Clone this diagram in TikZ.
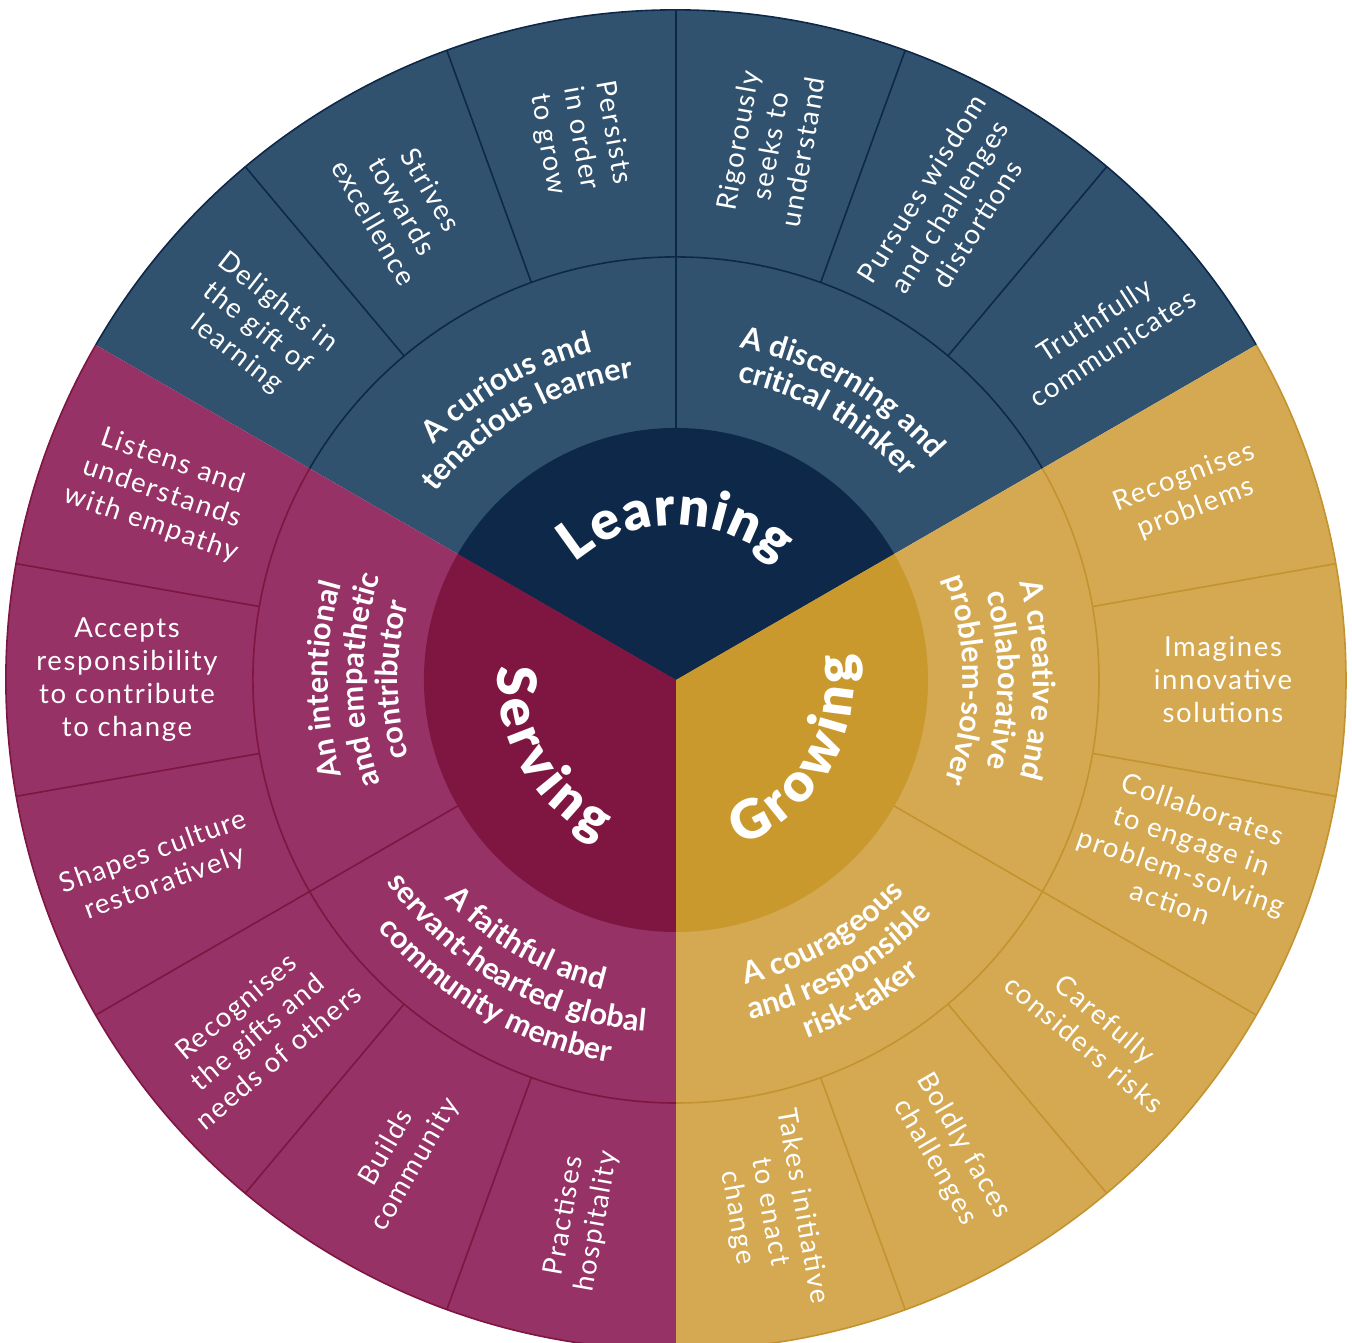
\documentclass[tikz,border=0pt]{standalone}
\usepackage{fontspec}
\usetikzlibrary{decorations.text}
\newfontfamily\wheelLight[LetterSpace=6]{Lato}
\newfontfamily\wheelMid[LetterSpace=2]{Lato}
\IfFontExistsTF{Lato Black}
 {\newfontfamily\wheelHeavy{Lato Black}\newcommand\wheelHeavyBold{}}
 {\newfontfamily\wheelHeavy{Lato}\newcommand\wheelHeavyBold{\bfseries}}
\newcommand\wheelOuterStyle{\wheelLight\fontsize{27.5}{33}\selectfont}
\newcommand\wheelMidStyle{\wheelMid\bfseries\fontsize{30.5}{30.5}\selectfont}
\newcommand\wheelCoreStyle{\wheelHeavy\wheelHeavyBold\fontsize{54}{54}\selectfont}
\definecolor{learnOuter}{HTML}{31526F}
\definecolor{learnCore}{HTML}{0D2849}
\definecolor{learnLine}{HTML}{0D2849}
\definecolor{growOuter}{HTML}{D4A951}
\definecolor{growCore}{HTML}{C9992E}
\definecolor{growLine}{HTML}{C39330}
\definecolor{servOuter}{HTML}{963266}
\definecolor{servCore}{HTML}{7F1541}
\definecolor{servLine}{HTML}{7F1541}
\tikzset{
  outertext/.style={text=white, align=center, inner sep=0pt, font=\wheelOuterStyle},
  septop/.style={line width=1.6pt},
  midlabel/.style={decorate, decoration={text along path, text align=center, text color=white, text={|\wheelMidStyle|#1}}},
  corelabel/.style={decorate, decoration={text along path, text align=center, text color=white, text={|\wheelCoreStyle|#1}}}
}
\begin{document}
\begin{tikzpicture}[x=1pt,y=1pt]
\useasboundingbox (-676,-663) rectangle (676,680);
% ---- sector fills
\fill[learnOuter] (0,0) -- (30:670pt) arc[start angle=30,end angle=150,radius=670pt] -- cycle;
\fill[growOuter] (0,0) -- (-90:670pt) arc[start angle=-90,end angle=30,radius=670pt] -- cycle;
\fill[servOuter] (0,0) -- (150:670pt) arc[start angle=150,end angle=270,radius=670pt] -- cycle;
% ---- core fills
\fill[learnCore] (0,0) -- (30:252pt) arc[start angle=30,end angle=150,radius=252pt] -- cycle;
\fill[growCore] (0,0) -- (-90:252pt) arc[start angle=-90,end angle=30,radius=252pt] -- cycle;
\fill[servCore] (0,0) -- (150:252pt) arc[start angle=150,end angle=270,radius=252pt] -- cycle;
% ---- rims and ring arcs
\draw[learnLine,septop] (30:670pt) arc[start angle=30,end angle=150,radius=670pt];
\draw[growLine,septop] (-90:670pt) arc[start angle=-90,end angle=30,radius=670pt];
\draw[servLine,septop] (150:670pt) arc[start angle=150,end angle=270,radius=670pt];
\draw[learnLine,septop] (30:423pt) arc[start angle=30,end angle=150,radius=423pt];
\draw[growLine,septop] (-90:423pt) arc[start angle=-90,end angle=30,radius=423pt];
\draw[servLine,septop] (150:423pt) arc[start angle=150,end angle=270,radius=423pt];
% ---- separators
\foreach \a in {50,70,90,110,130} \draw[learnLine,septop] (\a:423pt) -- (\a:670pt);
\foreach \a in {10,-10,-30,-50,-70} \draw[growLine,septop] (\a:423pt) -- (\a:670pt);
\foreach \a in {170,190,210,230,250} \draw[servLine,septop] (\a:423pt) -- (\a:670pt);
\draw[learnLine,septop] (90:252pt) -- (90:423pt);
\draw[growLine,septop] (-30:252pt) -- (-30:423pt);
\draw[servLine,septop] (210:252pt) -- (210:423pt);
% ---- outer texts: Learning
\node[outertext,rotate=-38] (o1) at (140:547pt) {Delights in\\the gift of\\learning};
\node[outertext,rotate=-60] (o2) at (120:547pt) {Strives\\towards\\excellence};
\node[outertext,rotate=-80] (o3) at (100:550pt) {Persists\\in order\\to grow};
\node[outertext,rotate=80] (o4) at (80:542pt) {Rigorously\\seeks to\\understand};
\node[outertext,rotate=58] (o5) at (60:547pt) {Pursues wisdom\\and challenges\\distortions};
\node[outertext,rotate=33] (o6) at (39:550pt) {Truthfully\\communicates};
% ---- outer texts: Growing
\node[outertext,rotate=21] (o7) at (20:547pt) {Recognises\\problems};
\node[outertext,rotate=0] (o8) at (0:547pt) {Imagines\\innovative\\solutions};
\node[outertext,rotate=-19] (o9) at (-19:540pt) {Collaborates\\to engage in\\problem-solving\\action};
\node[outertext,rotate=-40] (o10) at (-40:547pt) {Carefully\\considers risks};
\node[outertext,rotate=-60] (o11) at (-60:547pt) {Boldly faces\\challenges};
\node[outertext,rotate=-80] (o12) at (-80:540pt) {Takes initiative\\to enact\\change};
% ---- outer texts: Serving
\node[outertext,rotate=80] (o13) at (260:547pt) {Practises\\hospitality};
\node[outertext,rotate=60] (o14) at (240:550pt) {Builds\\community};
\node[outertext,rotate=40] (o15) at (220:547pt) {Recognises\\the gifts and\\needs of others};
\node[outertext,rotate=20] (o16) at (200:550pt) {Shapes culture\\restoratively};
\node[outertext,rotate=0] (o17) at (180:549pt) {Accepts\\responsibility\\to contribute\\to change};
\node[outertext,rotate=-19] (o18) at (160:547pt) {Listens and\\understands\\with empathy};
% ---- middle ring labels (curved)
\path[midlabel={A curious and}] (180:338pt) arc[start angle=180,end angle=60,radius=338pt];
\path[midlabel={tenacious learner}] (180:305pt) arc[start angle=180,end angle=60,radius=305pt];
\path[midlabel={A discerning and}] (120:338pt) arc[start angle=120,end angle=0,radius=338pt];
\path[midlabel={critical thinker}] (120:305pt) arc[start angle=120,end angle=0,radius=305pt];
\path[midlabel={A creative and}] (60:357pt) arc[start angle=60,end angle=-60,radius=357pt];
\path[midlabel={collaborative}] (60:322pt) arc[start angle=60,end angle=-60,radius=322pt];
\path[midlabel={problem-solver}] (60:287pt) arc[start angle=60,end angle=-60,radius=287pt];
\path[midlabel={An intentional}] (240:348pt) arc[start angle=240,end angle=120,radius=348pt];
\path[midlabel={and empathetic}] (240:313pt) arc[start angle=240,end angle=120,radius=313pt];
\path[midlabel={contributor}] (240:278pt) arc[start angle=240,end angle=120,radius=278pt];
\path[midlabel={A courageous}] (-120:312pt) arc[start angle=-120,end angle=0,radius=312pt];
\path[midlabel={and responsible}] (-120:347pt) arc[start angle=-120,end angle=0,radius=347pt];
\path[midlabel={risk-taker}] (-120:382pt) arc[start angle=-120,end angle=0,radius=382pt];
\path[midlabel={A faithful and}] (180:318pt) arc[start angle=180,end angle=300,radius=318pt];
\path[midlabel={servant-hearted global}] (180:353pt) arc[start angle=180,end angle=300,radius=353pt];
\path[midlabel={community member}] (180:388pt) arc[start angle=180,end angle=300,radius=388pt];
% ---- core labels (curved, letter-spaced)
\path[corelabel={L{\kern1.5pt}e{\kern1.5pt}a{\kern1.5pt}r{\kern1.5pt}n{\kern1.5pt}i{\kern1.5pt}n{\kern1.5pt}g}] (175:155pt) arc[start angle=175,end angle=5,radius=155pt];
\path[corelabel={G{\kern5pt}r{\kern5pt}o{\kern5pt}w{\kern5pt}i{\kern5pt}n{\kern5pt}g}] (-130:178pt) arc[start angle=-130,end angle=70,radius=178pt];
\path[corelabel={S{\kern5pt}e{\kern5pt}r{\kern5pt}v{\kern5pt}i{\kern5pt}n{\kern5pt}g}] (110:178pt) arc[start angle=110,end angle=310,radius=178pt];
\end{tikzpicture}
\end{document}
